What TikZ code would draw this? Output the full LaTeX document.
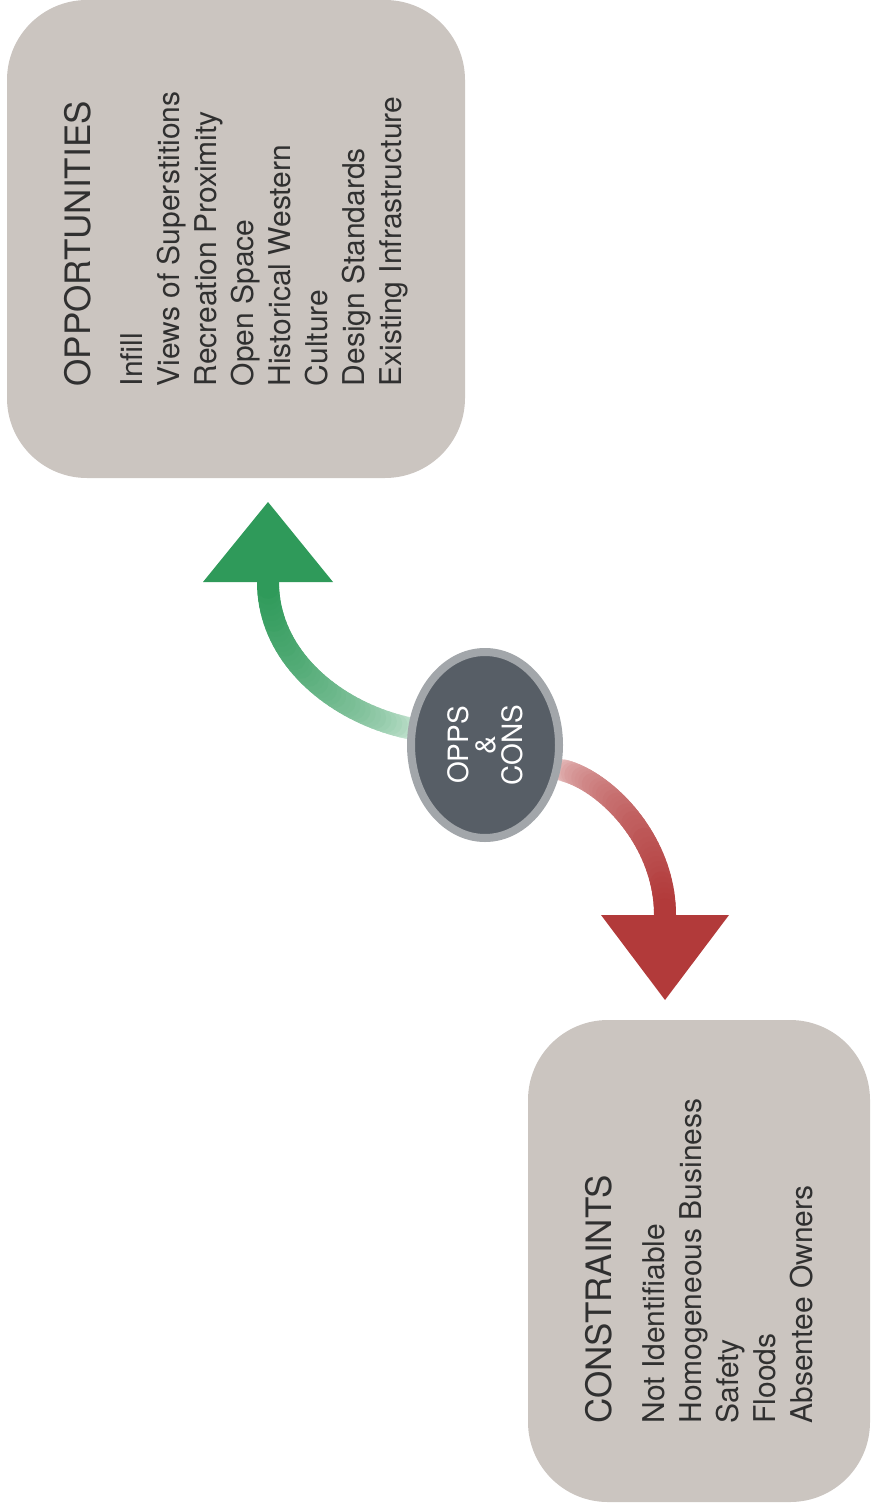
\documentclass[tikz,border=0pt]{standalone}
\usepackage{fontspec}
\setmainfont{TeX Gyre Heros}
\usepackage{xcolor}
\usepackage{tikz}
\usetikzlibrary{positioning,calc,shapes.geometric,backgrounds}
\definecolor{boxgray}{HTML}{CBC5C0}
\definecolor{hubfill}{HTML}{575E66}
\definecolor{hubring}{HTML}{A2A6AA}
\definecolor{oppgreen}{HTML}{2F9A5A}
\definecolor{conred}{HTML}{B23A3A}
\definecolor{txtgray}{HTML}{303030}

\begin{document}
\begin{tikzpicture}[x=0.5pt,y=-0.5pt,
  listbox/.style={fill=boxgray,rounded corners=40pt,rotate=90,align=left,
    text=txtgray,inner sep=0pt,font=\fontsize{15}{18.5}\selectfont},
  hub/.style={ellipse,draw=hubring,line width=4pt,fill=hubfill,rotate=90,
    minimum width=93pt,minimum height=74pt,inner sep=0pt,align=center,
    text=white,font=\fontsize{14}{13.5}\selectfont},
  shaft/.style={line width=11pt,line cap=round}]
  \useasboundingbox (0,0) rectangle (872,1508);

  \node[listbox,minimum width=239pt,minimum height=229pt] (opp) at (236,239)
    {{\fontsize{17.5}{18.5}\selectfont OPPORTUNITIES}\\[7.5pt]
     Infill\\ Views of Superstitions\\ Recreation Proximity\\ Open Space\\
     Historical Western\\ Culture\\ Design Standards\\ Existing Infrastructure};
  \node[listbox,minimum width=241pt,minimum height=171pt] (con) at (699,1261)
    {{\fontsize{17.5}{18.5}\selectfont CONSTRAINTS}\\[8pt]
     Not Identifiable\\ Homogeneous Business\\ Safety\\ Floods\\ Absentee Owners};
  \node[hub] (hub) at (485,745) {OPPS\\\&\\CONS};

  \begin{pgfonlayer}{background}
    \coordinate (gstart) at ($(hub.center)+(-72,-16)$);
    \coordinate (opptip) at (268,502);
    \coordinate (oppbase) at ($(opptip)+(0,80)$);
    \coordinate (rstart) at ($(hub.center)+(77,25)$);
    \coordinate (contip) at (665,1000);
    \coordinate (conbase) at ($(contip)+(0,-85)$);
    \foreach \i [evaluate=\i as \t using \i/40] in {0,...,40} {
      \path (gstart) .. controls (340,715) and (268,660) .. (oppbase) coordinate[pos=\t] (g\i);
      \path (rstart) .. controls (605,780) and (665,840) .. (conbase) coordinate[pos=\t] (r\i);
    }
    \foreach \i [evaluate=\i as \j using int(\i+1),
                 evaluate=\i as \p using int(15+85*sqrt(\i/39)),
                 evaluate=\i as \q using int(25+75*sqrt(\i/39))] in {0,...,39} {
      \draw[shaft,oppgreen!\p!white] (g\i) -- (g\j);
      \draw[shaft,conred!\q!white] (r\i) -- (r\j);
    }
    \fill[oppgreen] (opptip) -- ($(oppbase)+(-65,0)$) -- ($(oppbase)+(65,0)$) -- cycle;
    \fill[conred] (contip) -- ($(conbase)+(-64,0)$) -- ($(conbase)+(64,0)$) -- cycle;
  \end{pgfonlayer}
\end{tikzpicture}
\end{document}
